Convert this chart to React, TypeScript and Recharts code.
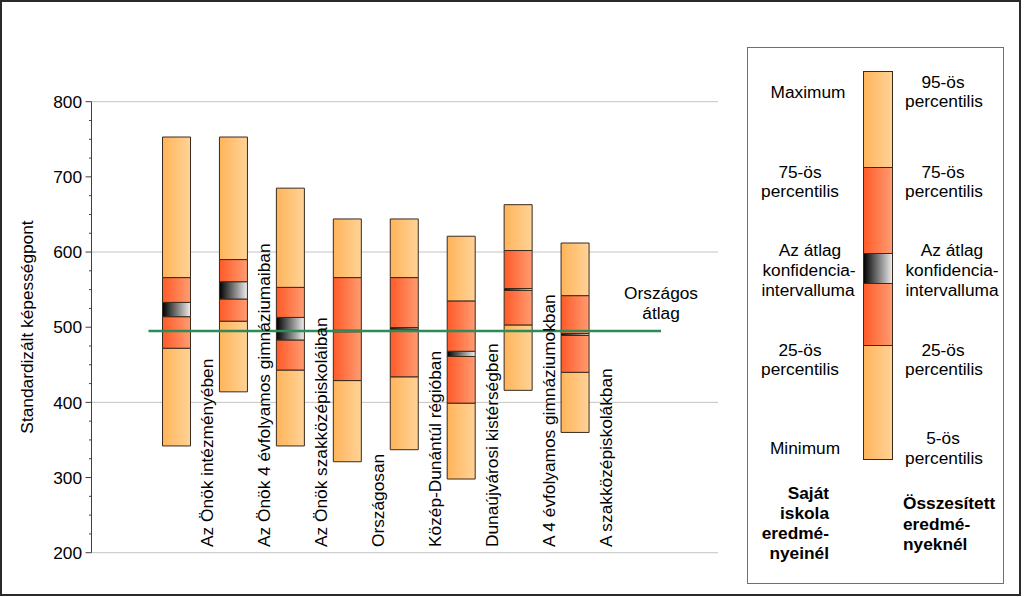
import React from 'react';
import { ComposedChart, Bar, XAxis, YAxis, CartesianGrid, ReferenceLine } from 'recharts';

const categories = [
  'Az Önök intézményében',
  'Az Önök 4 évfolyamos gimnáziumaiban',
  'Az Önök szakközépiskoláiban',
  'Országosan',
  'Közép-Dunántúl régióban',
  'Dunaújvárosi kistérségben',
  'A 4 évfolyamos gimnáziumokban',
  'A szakközépiskolákban',
];
const lowVals = [342, 414, 342, 321, 337, 298, 416, 360];
const p25Vals = [472, 508, 443, 429, 434, 399, 503, 440];
const ciLowVals = [514, 537.5, 483, 494, 497.5, 461, 549, 489];
const ciHighVals = [533, 560.5, 513, 496, 499.5, 468, 551.5, 491.5];
const p75Vals = [566, 590, 553, 566, 566, 535, 602, 542];
const highVals = [753, 753, 685, 644, 644, 621, 663, 612];

const nationalAverage = 495;
const nationalLineSpan = [1, 10];
const yTicks = [200, 225, 250, 275, 300, 325, 350, 375, 400, 425, 450, 475, 500, 525, 550, 575, 600, 625, 650, 675, 700, 725, 750, 775, 800];
const yLabelTicks = [200, 300, 400, 500, 600, 700, 800];
const gridValues = [200, 400, 600, 800];

const data = categories.map((name, i) => ({
  name,
  pos: i + 1,
  base: lowVals[i],
  lowTail: p25Vals[i] - lowVals[i],
  lowMid: ciLowVals[i] - p25Vals[i],
  ci: ciHighVals[i] - ciLowVals[i],
  highMid: p75Vals[i] - ciHighVals[i],
  highTail: highVals[i] - p75Vals[i],
}));

const FONT = '"Liberation Sans", Arial, sans-serif';
const FS = 17.3;
const BAR_STROKE = '#3a2a1c';

const XTick = (props: any) => {
  const { x, payload } = props;
  if (!payload || !payload.value) return null;
  return (
    <text
      transform={`translate(${x + 36}, 547) rotate(-90)`}
      textAnchor="start"
      fontFamily={FONT}
      fontSize={FS}
      fill="#000"
    >
      {payload.value}
    </text>
  );
};

const YTick = (props: any) => {
  const { x, y, payload } = props;
  const v = payload.value;
  const major = yLabelTicks.includes(v);
  return (
    <g>
      <line x1={x - (major ? 6 : 2.5)} x2={x} y1={y} y2={y} stroke="#404040" strokeWidth={1} />
      {major && (
        <text x={x - 9.5} y={y} dy="0.36em" textAnchor="end" fontFamily={FONT} fontSize={FS} fill="#000">
          {v}
        </text>
      )}
    </g>
  );
};

const NatLabel = (props: any) => {
  const vb = props.viewBox || {};
  const x = (vb.x || 0) + (vb.width || 0);
  const y = vb.y || 0;
  return (
    <text x={x} y={y - 32} textAnchor="middle" fontFamily={FONT} fontSize={FS} fill="#000">
      <tspan x={x}>Országos</tspan>
      <tspan x={x} dy={20}>átlag</tspan>
    </text>
  );
};

const legendLeft: [string, number, number][] = [
  ['Maximum', 808, 98],
  ['75-ös', 800, 178],
  ['percentilis', 800, 197],
  ['Az átlag', 810, 256],
  ['konfidencia-', 809, 276],
  ['intervalluma', 808, 296],
  ['25-ös', 800, 356],
  ['percentilis', 800, 375],
  ['Minimum', 805, 454],
];
const legendRight: [string, number, number][] = [
  ['95-ös', 943, 88],
  ['percentilis', 944, 107],
  ['75-ös', 943, 178],
  ['percentilis', 944, 197],
  ['Az átlag', 952, 256],
  ['konfidencia-', 952, 276],
  ['intervalluma', 952, 296],
  ['25-ös', 943, 356],
  ['percentilis', 944, 375],
  ['5-ös', 943, 444],
  ['percentilis', 944, 464],
];
const legendBoldLeft = ['Saját', 'iskola', 'eredmé-', 'nyeinél'];
const legendBoldRight = ['Összesített', 'eredmé-', 'nyeknél'];

const Gradients = ({ prefix }: { prefix: string }) => (
  <defs>
    <linearGradient id={`${prefix}light`} x1="0" y1="0" x2="1" y2="0">
      <stop offset="0%" stopColor="#FFB45A" />
      <stop offset="100%" stopColor="#FFD397" />
    </linearGradient>
    <linearGradient id={`${prefix}dark`} x1="0" y1="0" x2="1" y2="0">
      <stop offset="0%" stopColor="#FF5A28" />
      <stop offset="100%" stopColor="#FF9C72" />
    </linearGradient>
    <linearGradient id={`${prefix}ci`} x1="0" y1="0" x2="1" y2="0">
      <stop offset="0%" stopColor="#000000" />
      <stop offset="100%" stopColor="#EEEEEE" />
    </linearGradient>
  </defs>
);

export default function App() {
  return (
    <div style={{ position: 'absolute', left: 0, top: 0, width: 1024, height: 597, background: '#fff' }}>
      <ComposedChart
        width={1024}
        height={597}
        data={data}
        margin={{ top: 101.7, right: 306, bottom: 43.3, left: 31.5 }}
        barSize={28}
      >
        <Gradients prefix="c-" />
        <CartesianGrid vertical={false} horizontalValues={gridValues} stroke="#c4c4c4" strokeWidth={1} />
        <XAxis
          dataKey="name"
          type="category"
          padding={{ left: 57, right: 114 }}
          axisLine={false}
          tickLine={false}
          height={1}
          interval={0}
          tick={<XTick />}
        />
        <XAxis xAxisId="num" dataKey="pos" type="number" domain={[0, 11]} allowDataOverflow hide />
        <YAxis
          type="number"
          domain={[200, 800]}
          ticks={yTicks}
          interval={0}
          width={60}
          tickSize={0}
          tickMargin={0}
          tickLine={false}
          axisLine={{ stroke: '#404040', strokeWidth: 1 }}
          tick={<YTick />}
          allowDataOverflow
        />
        <Bar dataKey="base" stackId="s" fill="transparent" stroke="none" isAnimationActive={false} />
        <Bar dataKey="lowTail" stackId="s" fill="url(#c-light)" stroke={BAR_STROKE} strokeWidth={1} isAnimationActive={false} />
        <Bar dataKey="lowMid" stackId="s" fill="url(#c-dark)" stroke={BAR_STROKE} strokeWidth={1} isAnimationActive={false} />
        <Bar dataKey="ci" stackId="s" fill="url(#c-ci)" stroke={BAR_STROKE} strokeWidth={1} isAnimationActive={false} />
        <Bar dataKey="highMid" stackId="s" fill="url(#c-dark)" stroke={BAR_STROKE} strokeWidth={1} isAnimationActive={false} />
        <Bar dataKey="highTail" stackId="s" fill="url(#c-light)" stroke={BAR_STROKE} strokeWidth={1} isAnimationActive={false} />
        <ReferenceLine
          xAxisId="num"
          segment={[
            { x: nationalLineSpan[0], y: nationalAverage },
            { x: nationalLineSpan[1], y: nationalAverage },
          ]}
          stroke="#2E8B57"
          strokeWidth={2.5}
          label={<NatLabel />}
        />
      </ComposedChart>
      <svg
        width={1024}
        height={597}
        style={{ position: 'absolute', left: 0, top: 0, pointerEvents: 'none' }}
        fontFamily={FONT}
        fontSize={FS}
      >
        <Gradients prefix="l-" />
        <rect x={1} y={1} width={1019} height={594} fill="none" stroke="#2a2a2a" strokeWidth={2} />
        <text transform="translate(33, 327) rotate(-90)" textAnchor="middle" fill="#000">
          Standardizált képességpont
        </text>
        <rect x={747.5} y={47.5} width={256} height={536} fill="none" stroke="#707070" strokeWidth={1} />
        <rect x={863.5} y={71.5} width={29} height={96} fill="url(#l-light)" stroke={BAR_STROKE} />
        <rect x={863.5} y={167.5} width={29} height={86} fill="url(#l-dark)" stroke={BAR_STROKE} />
        <rect x={863.5} y={253.5} width={29} height={30} fill="url(#l-ci)" stroke={BAR_STROKE} />
        <rect x={863.5} y={283.5} width={29} height={62} fill="url(#l-dark)" stroke={BAR_STROKE} />
        <rect x={863.5} y={345.5} width={29} height={114} fill="url(#l-light)" stroke={BAR_STROKE} />
        {legendLeft.map(([t, x, y], i) => (
          <text key={'l' + i} x={x} y={y} textAnchor="middle" fill="#000">{t}</text>
        ))}
        {legendRight.map(([t, x, y], i) => (
          <text key={'r' + i} x={x} y={y} textAnchor="middle" fill="#000">{t}</text>
        ))}
        {legendBoldLeft.map((t, i) => (
          <text key={'bl' + i} x={829} y={499 + i * 20} textAnchor="end" fontWeight="bold" fill="#000">{t}</text>
        ))}
        {legendBoldRight.map((t, i) => (
          <text key={'br' + i} x={903} y={509 + i * 20.5} textAnchor="start" fontWeight="bold" fill="#000">{t}</text>
        ))}
      </svg>
    </div>
  );
}
